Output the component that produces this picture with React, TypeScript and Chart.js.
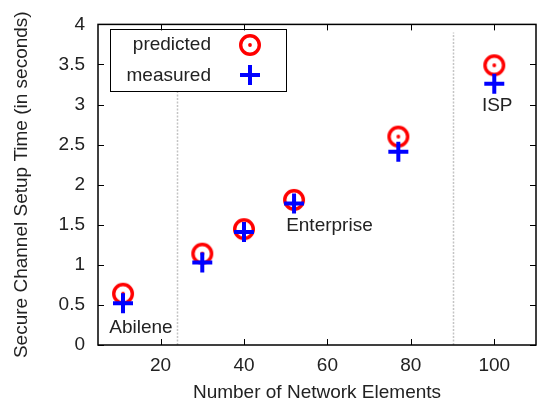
import React, { useEffect, useRef } from 'react';
import { Chart, registerables } from 'chart.js';
Chart.register(...registerables);

const networkElements = [11, 30, 40, 52, 77, 100];
const predictedTimes = [0.64, 1.14, 1.445, 1.81, 2.6, 3.49];
const measuredTimes = [0.52, 1.03, 1.41, 1.765, 2.41, 3.26];
const xTickValues = [20, 40, 60, 80, 100];
const yTickValues = [0, 0.5, 1, 1.5, 2, 2.5, 3, 3.5, 4];
const separatorX = [24, 90];
const separatorTop = 3.9;
const regionNames = ['Abilene', 'Enterprise', 'ISP'];
const regionX = [15.3, 50.1, 100.7];
const regionY = [0.153, 1.424, 2.916];
const regionAlign: CanvasTextAlign[] = ['center', 'left', 'center'];

const FONT = '"Liberation Sans", Arial, Helvetica, sans-serif';
const FS = 19;
const TEXT = '#222222';

function makeRing(): HTMLCanvasElement {
  const c = document.createElement('canvas');
  c.width = 28;
  c.height = 28;
  const g = c.getContext('2d')!;
  g.strokeStyle = '#ff0000';
  g.lineWidth = 3.4;
  g.beginPath();
  g.arc(14, 14, 9.3, 0, Math.PI * 2);
  g.stroke();
  g.fillStyle = '#ff0000';
  g.beginPath();
  g.arc(14, 14, 1.9, 0, Math.PI * 2);
  g.fill();
  return c;
}

function drawPlus(ctx: CanvasRenderingContext2D, x: number, y: number) {
  ctx.save();
  ctx.strokeStyle = '#0000ff';
  ctx.lineWidth = 4;
  ctx.beginPath();
  ctx.moveTo(x - 10, y);
  ctx.lineTo(x + 10, y);
  ctx.moveTo(x, y - 10);
  ctx.lineTo(x, y + 10);
  ctx.stroke();
  ctx.restore();
}

export default function App() {
  const ref = useRef<HTMLCanvasElement | null>(null);
  useEffect(() => {
    if (!ref.current) return;
    const ring = makeRing();
    const deco = {
      id: 'deco',
      beforeDatasetsDraw(chart: any) {
        const { ctx, scales } = chart;
        const xs = scales.x, ys = scales.y;
        ctx.save();
        ctx.strokeStyle = '#c4c4c4';
        ctx.lineWidth = 1.5;
        ctx.setLineDash([2, 1.5]);
        separatorX.forEach((v) => {
          const px = Math.round(xs.getPixelForValue(v)) + 0.5;
          ctx.beginPath();
          ctx.moveTo(px, ys.getPixelForValue(0));
          ctx.lineTo(px, ys.getPixelForValue(separatorTop));
          ctx.stroke();
        });
        ctx.restore();
      },
      afterDatasetsDraw(chart: any) {
        const { ctx, scales, chartArea } = chart;
        const xs = scales.x, ys = scales.y;
        ctx.save();
        ctx.fillStyle = TEXT;
        ctx.font = `${FS}px ${FONT}`;
        ctx.textBaseline = 'alphabetic';
        regionNames.forEach((t, i) => {
          ctx.textAlign = regionAlign[i];
          ctx.fillText(t, xs.getPixelForValue(regionX[i]), ys.getPixelForValue(regionY[i]));
        });
        // legend
        const lx = 110, ly = 29.5, lw = 176, lh = 62;
        ctx.fillStyle = '#ffffff';
        ctx.fillRect(lx, ly, lw, lh);
        ctx.strokeStyle = '#000000';
        ctx.lineWidth = 1;
        ctx.strokeRect(lx + 0.5, ly, lw, lh);
        ctx.fillStyle = TEXT;
        ctx.textAlign = 'right';
        ctx.textBaseline = 'middle';
        const ds = chart.data.datasets;
        ctx.fillText(ds[0].label, 211, 45);
        ctx.fillText(ds[1].label, 211, 75.5);
        ctx.drawImage(ring, 250 - 14, 45 - 14);
        drawPlus(ctx, 250, 75);
        // frame + inward ticks
        const { left, right, top, bottom } = chartArea;
        ctx.strokeStyle = '#000000';
        ctx.lineWidth = 1.5;
        ctx.strokeRect(left, top, right - left, bottom - top);
        ctx.lineWidth = 1;
        ctx.beginPath();
        xTickValues.forEach((v) => {
          const px = Math.round(xs.getPixelForValue(v)) + 0.5;
          ctx.moveTo(px, bottom);
          ctx.lineTo(px, bottom - 6);
          ctx.moveTo(px, top);
          ctx.lineTo(px, top + 6);
        });
        yTickValues.forEach((v) => {
          const py = Math.round(ys.getPixelForValue(v)) + 0.5;
          ctx.moveTo(left, py);
          ctx.lineTo(left + 6, py);
          ctx.moveTo(right, py);
          ctx.lineTo(right - 6, py);
        });
        ctx.stroke();
        ctx.restore();
      },
    };
    const chart = new Chart(ref.current, {
      type: 'scatter',
      data: {
        datasets: [
          {
            label: 'predicted',
            data: networkElements.map((x, i) => ({ x, y: predictedTimes[i] })),
            pointStyle: ring as any,
            pointRadius: 11,
            borderColor: '#ff0000',
            backgroundColor: '#ff0000',
            order: 2,
          },
          {
            label: 'measured',
            data: networkElements.map((x, i) => ({ x, y: measuredTimes[i] })),
            pointStyle: 'cross',
            pointRadius: 10,
            borderWidth: 4,
            borderColor: '#0000ff',
            backgroundColor: '#0000ff',
            order: 1,
          },
        ],
      },
      options: {
        animation: false,
        responsive: false,
        maintainAspectRatio: false,
        devicePixelRatio: 1,
        layout: { padding: { left: 0, top: 24, right: 9, bottom: 0 } },
        plugins: { legend: { display: false }, tooltip: { enabled: false } },
        scales: {
          x: {
            type: 'linear',
            min: 5,
            max: 110,
            grid: { display: false, drawTicks: false },
            border: { display: false },
            afterBuildTicks: (s: any) => {
              s.ticks = xTickValues.map((v) => ({ value: v }));
            },
            afterFit: (s: any) => {
              s.height = 58;
            },
            ticks: {
              padding: 9,
              color: TEXT,
              font: { family: FONT, size: FS },
              callback: (v: any) => String(v),
              maxRotation: 0,
            },
            title: {
              display: true,
              text: 'Number of Network Elements',
              color: TEXT,
              font: { family: FONT, size: FS },
              padding: { top: 0, bottom: -1.5 },
            },
          },
          y: {
            type: 'linear',
            min: 0,
            max: 4,
            grid: { display: false, drawTicks: false },
            border: { display: false },
            afterBuildTicks: (s: any) => {
              s.ticks = yTickValues.map((v) => ({ value: v }));
            },
            afterFit: (s: any) => {
              s.width = 98;
            },
            ticks: {
              padding: 13,
              color: TEXT,
              font: { family: FONT, size: FS },
              callback: (v: any) => String(v),
            },
            title: {
              display: true,
              text: 'Secure Channel Setup Time (in seconds)',
              color: TEXT,
              font: { family: FONT, size: FS },
              padding: { top: 10, bottom: 0 },
            },
          },
        },
      },
      plugins: [deco],
    });
    return () => chart.destroy();
  }, []);
  return (
    <div style={{ position: 'fixed', left: 0, top: 0, width: 540, height: 403, overflow: 'hidden', background: '#fff' }}>
      <canvas ref={ref} width={550} height={403} style={{ display: 'block' }} />
    </div>
  );
}
